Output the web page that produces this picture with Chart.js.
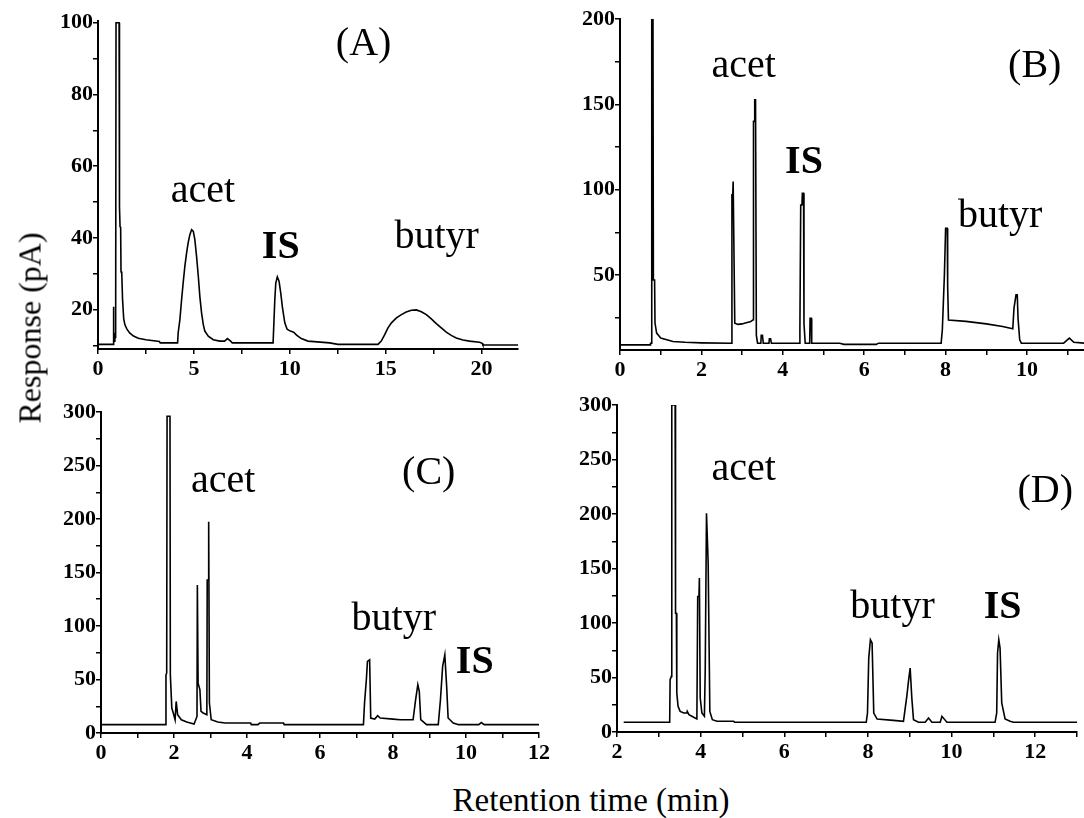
<!DOCTYPE html>
<html>
<head>
<meta charset="utf-8">
<script src="https://cdn.jsdelivr.net/npm/chart.js@4.4.1/dist/chart.umd.min.js"></script>
<style>
  body { margin: 0; width: 1084px; height: 818px; overflow: hidden; position: relative; background: #fff; font-family: "Liberation Serif", "Times New Roman", serif; }
  canvas { position: absolute; }
  .title { position: absolute; font-size: 33px; color: #000; white-space: nowrap; }
  #ytitle { left: 30px; top: 328px; transform: translate(-50%, -50%) rotate(-90deg); font-size: 32px; }
  #xtitle { left: 591px; top: 800px; transform: translate(-50%, -50%); }
</style>
</head>
<body>
<canvas id="chartA"></canvas>
<canvas id="chartB"></canvas>
<canvas id="chartC"></canvas>
<canvas id="chartD"></canvas>
<div class="title" id="ytitle">Response (pA)</div>
<div class="title" id="xtitle">Retention time (min)</div>
<script>
// ---- data (time in min, response in pA) ----
const timeA = [0, 0.80, 0.80, 0.83, 0.87, 0.88, 0.92, 0.94, 1.10, 1.12, 1.15, 1.18, 1.20, 1.24, 1.28, 1.34, 1.40, 1.50, 1.65, 1.85, 2.1, 2.5, 3.2, 3.25,
  4.15, 4.18, 4.27, 4.36, 4.44, 4.53, 4.62, 4.70, 4.79, 4.88, 4.97, 5.05, 5.14, 5.23, 5.31, 5.40, 5.49, 5.57, 5.75, 6.01, 6.35, 6.6, 6.75, 6.9, 7.0,
  9.13, 9.17, 9.22, 9.27, 9.35, 9.44, 9.53, 9.62, 9.74, 9.86, 10.03, 10.2, 10.37, 10.6, 10.95, 12.08, 12.51,
  14.60, 14.77, 14.95, 15.12, 15.30, 15.56, 15.82, 16.07, 16.34, 16.60, 16.86, 17.12, 17.38, 17.64, 17.90, 18.16, 18.42, 18.68, 19.03, 19.37, 19.90, 20.03, 20.07, 21.9];
const respA = [10.3, 10.3, 20.8, 11.2, 11.2, 13.5, 12.0, 100, 100, 48.7, 43.1, 43, 30.6, 30, 22.8, 17.5, 15.8, 14.6, 13.5, 12.6, 12.0, 11.6, 11.1, 10.7,
  10.7, 13.5, 17.2, 22.8, 27.4, 32.1, 35.8, 38.6, 40.9, 42.3, 41.8, 39.5, 34.8, 29.3, 23.7, 19.1, 15.8, 14.0, 12.6, 11.6, 11.2, 11.2, 11.9, 11.3, 10.7,
  10.7, 10.7, 22.8, 27.4, 29.1, 27.9, 24.6, 20.5, 16.3, 14.5, 14.0, 13.7, 12.8, 11.9, 11.2, 10.7, 10.3,
  10.3, 11.2, 13.0, 14.9, 16.3, 17.7, 18.6, 19.3, 19.8, 19.9, 19.4, 18.6, 17.4, 16.1, 14.9, 13.7, 12.8, 12.1, 11.5, 11.2, 10.9, 10.6, 10.1, 10.1];

const timeB = [0, 0.74, 0.75, 0.78, 0.78, 0.81, 0.82, 0.85, 0.86, 0.9, 1.0, 1.15, 1.3, 1.6, 2.0, 2.74, 2.75, 2.77, 2.78, 2.80, 2.82, 2.9, 3.0, 3.1, 3.2, 3.27, 3.28, 3.30, 3.31, 3.33, 3.35, 3.38, 3.46, 3.47, 3.5, 3.52, 3.66, 3.67, 3.70, 3.72, 4.40, 4.42, 4.44, 4.47, 4.48, 4.51, 4.52, 4.55, 4.66, 4.67, 4.70, 4.71, 5.4, 5.5, 6.3, 6.35, 7.89, 7.92, 7.97, 8.00, 8.04, 8.05, 8.07, 8.5, 9.0, 9.4, 9.65, 9.68, 9.73, 9.76, 9.78, 9.82, 9.86, 10.9, 11.04, 11.15, 11.4];
const respB = [9, 9, 10, 10, 200, 200, 47, 47, 21.8, 15.9, 13, 12, 11, 10.5, 10.2, 10, 96.9, 96.9, 104.7, 104.7, 21.7, 21, 21.3, 22, 22.5, 23.7, 140, 140, 152.6, 152.6, 14.6, 10, 10, 14.6, 14.6, 10, 10, 12.5, 12.5, 10, 10, 18, 91, 91, 97.9, 97.9, 21.7, 10, 10, 24.6, 24.6, 10, 10, 9.3, 9.3, 10, 10, 18, 50, 77.4, 77.4, 43.3, 23.6, 22.8, 21.3, 19.8, 18.5, 30.5, 38.3, 38.3, 24.4, 12, 10, 10, 13, 10.5, 10];

const timeC = [0, 1.76, 1.78, 1.80, 1.81, 1.89, 1.90, 1.94, 1.98, 2.03, 2.05, 2.06, 2.1, 2.2, 2.35, 2.55, 2.63, 2.64, 2.66, 2.71, 2.74, 2.8, 2.9, 2.91, 2.94, 2.95, 2.97, 3.02, 3.2, 3.4, 4.1, 4.12, 4.3, 4.35, 5.0, 5.02, 7.19, 7.22, 7.27, 7.3, 7.36, 7.39, 7.5, 7.58, 7.65, 8.0, 8.2, 8.55, 8.62, 8.68, 8.72, 8.76, 8.92, 9.24, 9.3, 9.36, 9.42, 9.47, 9.51, 9.65, 9.8, 10.35, 10.42, 10.5, 12];
const respC = [7.8, 7.8, 54.4, 56, 296, 296, 54.4, 23.3, 18.7, 12.4, 12.4, 29.5, 17, 12.4, 10.3, 8.4, 15.5, 138.4, 46.6, 40.4, 20.2, 18.7, 17.1, 143, 143, 197.4, 28, 12.4, 10.3, 9.3, 9.3, 7.8, 7.8, 9.3, 9.3, 7.8, 7.8, 28, 49.8, 66.9, 68.4, 14, 13, 16.2, 14, 13, 12.4, 12.4, 31.1, 45.1, 38.9, 12.4, 7.8, 7.8, 31.1, 62.2, 73, 43.5, 14, 9.3, 7.8, 7.8, 9.8, 7.8, 7.8];

const timeD = [2.16, 3.26, 3.27, 3.30, 3.31, 3.39, 3.40, 3.42, 3.43, 3.46, 3.51, 3.6, 3.67, 3.68, 3.72, 3.79, 3.91, 3.93, 3.96, 3.97, 3.99, 4.03, 4.09, 4.11, 4.14, 4.18, 4.22, 4.28, 4.39, 4.79, 4.81, 7.96, 7.99, 8.02, 8.06, 8.10, 8.14, 8.22, 8.61, 8.85, 8.93, 8.97, 9.01, 9.05, 9.09, 9.21, 9.37, 9.45, 9.53, 9.73, 9.77, 9.89, 11.04, 11.08, 11.1, 11.13, 11.16, 11.2, 11.28, 11.4, 11.48, 13.0];
const respD = [8.9, 8.9, 48, 51, 300, 300, 109, 109, 35.7, 23.5, 18.9, 17.4, 17.4, 19, 15.9, 14.4, 11.9, 124.3, 124.3, 141.2, 31.2, 17.4, 14.4, 57.1, 200.7, 154.9, 18.9, 11.3, 9.8, 9.8, 8.9, 8.9, 17.4, 67.8, 84.6, 81.6, 17.4, 11.9, 10.7, 9.8, 32.7, 46.4, 58.7, 31.2, 11.3, 8.9, 8.9, 12.8, 8.9, 8.9, 14.4, 8.9, 8.9, 17.4, 72.4, 84.6, 77, 26.6, 11.9, 9.8, 8.9, 8.9];

// tick labels (major) for each panel
const xTicksA = [0, 5, 10, 15, 20];
const yTicksA = [20, 40, 60, 80, 100];
const xTicksB = [0, 2, 4, 6, 8, 10];
const yTicksB = [50, 100, 150, 200];
const xTicksC = [0, 2, 4, 6, 8, 10, 12];
const yTicksC = [0, 50, 100, 150, 200, 250, 300];
const xTicksD = [2, 4, 6, 8, 10, 12];
const yTicksD = [0, 50, 100, 150, 200, 250, 300];

// peak names, placed in data units
const labelsA = [
  { text: '(A)', x: 13.85, y: 91 },
  { text: 'acet', x: 5.47, y: 50.1 },
  { text: 'IS', x: 9.53, y: 34.5, bold: true },
  { text: 'butyr', x: 17.66, y: 37.3 }
];
const labelsB = [
  { text: 'acet', x: 3.04, y: 166 },
  { text: '(B)', x: 10.19, y: 166 },
  { text: 'IS', x: 4.52, y: 109.6, bold: true },
  { text: 'butyr', x: 9.34, y: 78.3 }
];
const labelsC = [
  { text: 'acet', x: 3.35, y: 225.4 },
  { text: '(C)', x: 8.98, y: 232.6 },
  { text: 'butyr', x: 8.02, y: 96.4 },
  { text: 'IS', x: 10.24, y: 56.5, bold: true }
];
const labelsD = [
  { text: 'acet', x: 5.03, y: 231.3 },
  { text: '(D)', x: 12.24, y: 211.4 },
  { text: 'butyr', x: 8.59, y: 104.5 },
  { text: 'IS', x: 11.22, y: 104.5, bold: true }
];

Chart.defaults.font.family = '"Liberation Serif", serif';
Chart.defaults.color = '#000';
const tickFont = { family: '"Liberation Serif", serif', size: 22, weight: 'bold' };

const peakLabels = {
  id: 'peakLabels',
  afterDatasetsDraw(chart, args, opts) {
    const { ctx } = chart;
    const sx = chart.scales.x, sy = chart.scales.y;
    ctx.save();
    ctx.fillStyle = '#000';
    ctx.textAlign = 'center';
    ctx.textBaseline = 'alphabetic';
    opts.items.forEach(l => {
      ctx.font = (l.bold ? 'bold ' : '') + '40px "Liberation Serif"';
      ctx.fillText(l.text, sx.getPixelForValue(l.x), sy.getPixelForValue(l.y));
    });
    ctx.restore();
  }
};

function withMinor(majors, step, lo, hi) {
  const out = [];
  for (let v = lo; v <= hi + 1e-9; v += step) out.push(Math.round(v * 100) / 100);
  return out;
}

function axis(min, max, majors, all, isY) {
  return {
    type: 'linear',
    min: min,
    max: max,
    afterBuildTicks: s => { s.ticks = all.map(v => ({ value: v })); },
    afterFit: s => { if (isY) s.width = 50; else s.height = 35; },
    ticks: {
      autoSkip: false,
      maxRotation: 0,
      color: '#000',
      font: tickFont,
      padding: isY ? 0 : 2,
      callback: v => majors.includes(v) ? String(v) : ''
    },
    grid: { drawOnChartArea: false, tickLength: 5, color: '#000', lineWidth: 1.5 },
    border: { display: true, color: '#000', width: 2 }
  };
}

// area = chart area box in page pixels
function panel(id, area, times, resp, xr, yr, labels) {
  const cv = document.getElementById(id);
  const w = area.right - area.left + 80;
  const h = area.bottom - area.top + 60;
  cv.width = w; cv.height = h;
  cv.style.left = (area.left - 60) + 'px';
  cv.style.top = (area.top - 20) + 'px';
  cv.style.width = w + 'px';
  cv.style.height = h + 'px';

  new Chart(cv, {
    type: 'line',
    data: {
      datasets: [{
        data: times.map((t, i) => ({ x: t, y: resp[i] })),
        borderColor: '#000',
        borderWidth: 1.6,
        pointRadius: 0,
        tension: 0,
        fill: false
      }]
    },
    options: {
      responsive: false,
      animation: false,
      layout: { padding: { left: 10, top: 20, right: 20, bottom: 5 } },
      plugins: { legend: { display: false }, tooltip: { enabled: false }, peakLabels: { items: labels } },
      scales: {
        x: axis(xr.min, xr.max, xr.majors, xr.all, false),
        y: axis(yr.min, yr.max, yr.majors, yr.all, true)
      }
    },
    plugins: [peakLabels]
  });
}

panel('chartA', { left: 98, right: 518, top: 21, bottom: 349 }, timeA, respA,
  { min: 0, max: 21.9, majors: xTicksA, all: withMinor(xTicksA, 2.5, 0, 20) },
  { min: 9, max: 100.5, majors: yTicksA, all: withMinor(yTicksA, 10, 10, 100) }, labelsA);

panel('chartB', { left: 620, right: 1084, top: 19, bottom: 350 }, timeB, respB,
  { min: 0, max: 11.4, majors: xTicksB, all: withMinor(xTicksB, 1, 0, 11) },
  { min: 6, max: 200, majors: yTicksB, all: withMinor(yTicksB, 25, 25, 200) }, labelsB);

panel('chartC', { left: 101, right: 539, top: 412, bottom: 733 }, timeC, respC,
  { min: 0, max: 12, majors: xTicksC, all: withMinor(xTicksC, 1, 0, 12) },
  { min: 0, max: 300, majors: yTicksC, all: withMinor(yTicksC, 25, 0, 300) }, labelsC);

panel('chartD', { left: 617, right: 1077, top: 405, bottom: 732 }, timeD, respD,
  { min: 2, max: 13, majors: xTicksD, all: withMinor(xTicksD, 1, 2, 13) },
  { min: 0, max: 300, majors: yTicksD, all: withMinor(yTicksD, 25, 0, 300) }, labelsD);
</script>
</body>
</html>
